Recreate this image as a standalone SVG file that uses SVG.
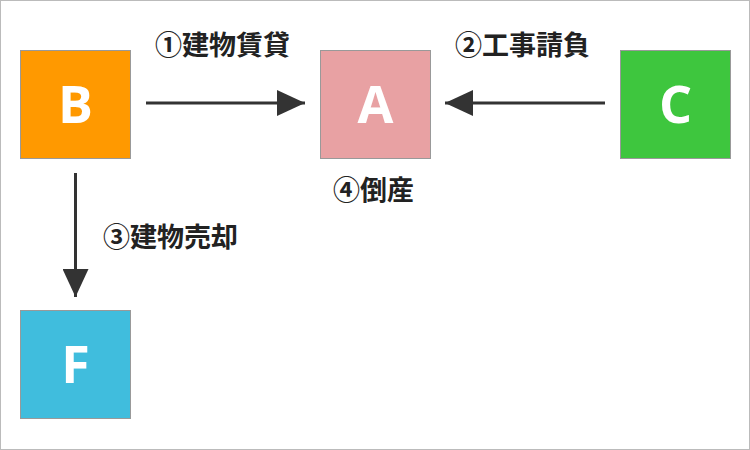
<svg xmlns="http://www.w3.org/2000/svg" width="750" height="450" viewBox="0 0 750 450">
<style>
.box{stroke:#999;stroke-width:1}
.let{font-family:"Open Sans",sans-serif;font-weight:bold;font-size:52px;fill:#fff;text-anchor:middle}
.lbl{font-family:"Noto Sans CJK JP",sans-serif;font-weight:bold;font-size:27px;fill:#222}
.ln{stroke:#333;stroke-width:3;fill:none}
</style>
<defs><marker id="a2" viewBox="0 0 28 26" refX="28" refY="13" markerWidth="28" markerHeight="26" markerUnits="userSpaceOnUse" orient="auto"><path d="M0,0L28,13L0,26z" fill="#333"/></marker></defs>
<rect x="0.5" y="0.5" width="749" height="449" fill="#fff" stroke="#bbb"/>
<g id="B"><rect class="box" x="20.5" y="50.5" width="110" height="108" fill="#ff9900"/><text class="let" x="75.5" y="123">B</text></g>
<g id="A"><rect class="box" x="320.5" y="50.5" width="110" height="108" fill="#e8a1a3"/><text class="let" x="375.5" y="123">A</text></g>
<g id="C"><rect class="box" x="620.5" y="50.5" width="110" height="108" fill="#3ec63e"/><text class="let" x="675.5" y="123">C</text></g>
<g id="F"><rect class="box" x="20.5" y="310.5" width="110" height="108" fill="#40bddd"/><text class="let" x="75.5" y="383">F</text></g>
<g id="connectors">
<line class="ln" x1="146" y1="103" x2="305" y2="103" marker-end="url(#a2)"/>
<line class="ln" x1="605" y1="103" x2="445" y2="103" marker-end="url(#a2)"/>
<line class="ln" x1="75.5" y1="173" x2="75.5" y2="297" marker-end="url(#a2)"/>
</g>
<text class="lbl" x="155" y="55">①建物賃貸</text>
<text class="lbl" x="455" y="55">②工事請負</text>
<text class="lbl" x="103" y="247">③建物売却</text>
<text class="lbl" x="333" y="200">④倒産</text>
</svg>
